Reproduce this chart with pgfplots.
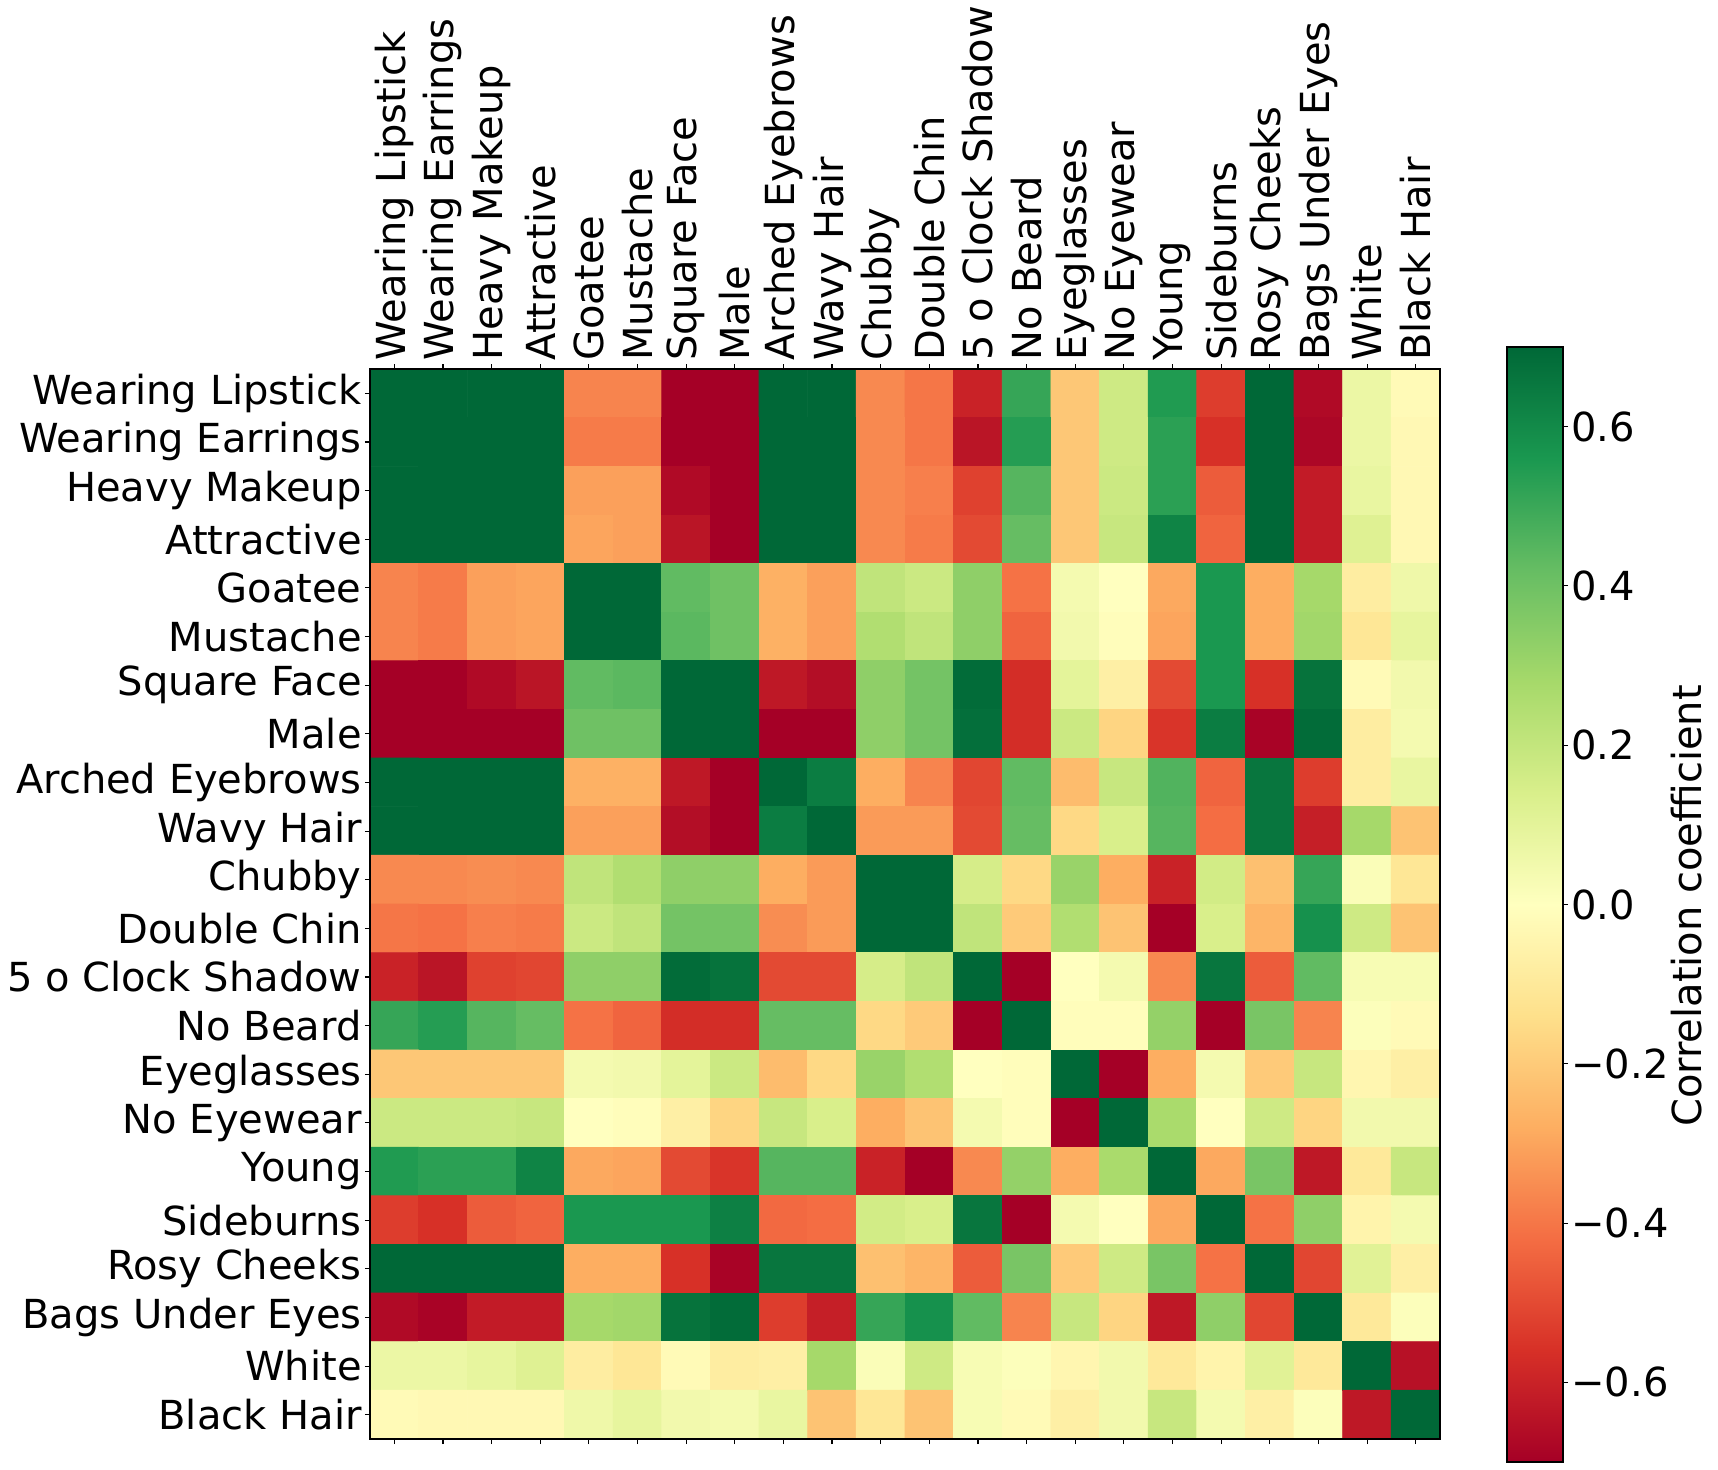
\documentclass[border=0pt]{standalone}
\usepackage{fontspec}
\setmainfont{DejaVu Sans}
\usepackage{pgfplots}
\pgfplotsset{compat=1.18}
\usetikzlibrary{calc}

% matplotlib RdYlGn
\pgfplotsset{colormap={RdYlGn}{
  rgb255=(165,0,38) rgb255=(215,48,39) rgb255=(244,109,67) rgb255=(253,174,97)
  rgb255=(254,224,139) rgb255=(255,255,191) rgb255=(217,239,139) rgb255=(166,217,106)
  rgb255=(102,189,99) rgb255=(26,152,80) rgb255=(0,104,55)}}

\newcommand{\lblfont}{\fontsize{20pt}{24pt}\selectfont}

\begin{document}
\begin{tikzpicture}
\begin{axis}[
    name=hm,
    at={(0,0)}, anchor=north west,
    scale only axis,
    width=535pt, height=535pt,
    xmin=-0.5, xmax=21.5, ymin=-0.5, ymax=21.5,
    axis on top,
    axis line style={line width=0.55pt},
    xtick={0,...,21}, ytick={0,...,21},
    xticklabels={Wearing Lipstick, Wearing Earrings, Heavy Makeup, Attractive, Goatee, Mustache, Square Face, Male, Arched Eyebrows, Wavy Hair, Chubby, Double Chin, 5 o Clock Shadow, No Beard, Eyeglasses, No Eyewear, Young, Sideburns, Rosy Cheeks, Bags Under Eyes, White, Black Hair},
    yticklabels={Black Hair, White, Bags Under Eyes, Rosy Cheeks, Sideburns, Young, No Eyewear, Eyeglasses, No Beard, 5 o Clock Shadow, Double Chin, Chubby, Wavy Hair, Arched Eyebrows, Male, Square Face, Mustache, Goatee, Attractive, Heavy Makeup, Wearing Earrings, Wearing Lipstick},
    xtick pos=both, xticklabel pos=upper,
    ytick pos=left,
    tick align=outside,
    major tick length=2.5pt,
    every tick/.style={black, line width=0.55pt},
    x tick label style={rotate=90, anchor=west, font=\lblfont, inner sep=1.5pt},
    y tick label style={anchor=east, font=\lblfont, inner sep=1.5pt},
    colormap name=RdYlGn,
    point meta min=-0.7, point meta max=0.7,
]
\addplot[matrix plot*, mesh/cols=22, point meta=explicit] coordinates {
(0,21)[0.7] (1,21)[0.7] (2,21)[0.7] (3,21)[0.7] (4,21)[-0.37] (5,21)[-0.37] (6,21)[-0.7] (7,21)[-0.7] (8,21)[0.7] (9,21)[0.7] (10,21)[-0.36] (11,21)[-0.40] (12,21)[-0.60] (13,21)[0.51] (14,21)[-0.21] (15,21)[0.17] (16,21)[0.55] (17,21)[-0.53] (18,21)[0.7] (19,21)[-0.67] (20,21)[0.07] (21,21)[-0.02]
(0,20)[0.7] (1,20)[0.7] (2,20)[0.7] (3,20)[0.7] (4,20)[-0.39] (5,20)[-0.39] (6,20)[-0.7] (7,20)[-0.7] (8,20)[0.7] (9,20)[0.7] (10,20)[-0.36] (11,20)[-0.40] (12,20)[-0.64] (13,20)[0.54] (14,20)[-0.21] (15,20)[0.17] (16,20)[0.53] (17,20)[-0.56] (18,20)[0.7] (19,20)[-0.68] (20,20)[0.07] (21,20)[-0.03]
(0,19)[0.7] (1,19)[0.7] (2,19)[0.7] (3,19)[0.7] (4,19)[-0.31] (5,19)[-0.31] (6,19)[-0.67] (7,19)[-0.7] (8,19)[0.7] (9,19)[0.7] (10,19)[-0.36] (11,19)[-0.38] (12,19)[-0.52] (13,19)[0.45] (14,19)[-0.21] (15,19)[0.18] (16,19)[0.53] (17,19)[-0.46] (18,19)[0.7] (19,19)[-0.62] (20,19)[0.08] (21,19)[-0.03]
(0,18)[0.7] (1,18)[0.7] (2,18)[0.7] (3,18)[0.7] (4,18)[-0.30] (5,18)[-0.31] (6,18)[-0.64] (7,18)[-0.7] (8,18)[0.7] (9,18)[0.7] (10,18)[-0.36] (11,18)[-0.39] (12,18)[-0.50] (13,18)[0.42] (14,18)[-0.21] (15,18)[0.19] (16,18)[0.62] (17,18)[-0.44] (18,18)[0.7] (19,18)[-0.62] (20,18)[0.12] (21,18)[-0.03]
(0,17)[-0.37] (1,17)[-0.39] (2,17)[-0.31] (3,17)[-0.30] (4,17)[0.7] (5,17)[0.7] (6,17)[0.43] (7,17)[0.40] (8,17)[-0.27] (9,17)[-0.31] (10,17)[0.21] (11,17)[0.18] (12,17)[0.33] (13,17)[-0.41] (14,17)[0.04] (15,17)[0.0] (16,17)[-0.29] (17,17)[0.56] (18,17)[-0.28] (19,17)[0.28] (20,17)[-0.08] (21,17)[0.06]
(0,16)[-0.37] (1,16)[-0.39] (2,16)[-0.31] (3,16)[-0.30] (4,16)[0.7] (5,16)[0.7] (6,16)[0.44] (7,16)[0.40] (8,16)[-0.27] (9,16)[-0.31] (10,16)[0.25] (11,16)[0.21] (12,16)[0.33] (13,16)[-0.44] (14,16)[0.05] (15,16)[-0.01] (16,16)[-0.30] (17,16)[0.56] (18,16)[-0.28] (19,16)[0.29] (20,16)[-0.11] (21,16)[0.09]
(0,15)[-0.7] (1,15)[-0.7] (2,15)[-0.67] (3,15)[-0.64] (4,15)[0.43] (5,15)[0.44] (6,15)[0.7] (7,15)[0.7] (8,15)[-0.63] (9,15)[-0.66] (10,15)[0.33] (11,15)[0.39] (12,15)[0.69] (13,15)[-0.57] (14,15)[0.10] (15,15)[-0.07] (16,15)[-0.50] (17,15)[0.56] (18,15)[-0.56] (19,15)[0.67] (20,15)[-0.02] (21,15)[0.05]
(0,14)[-0.7] (1,14)[-0.7] (2,14)[-0.7] (3,14)[-0.7] (4,14)[0.40] (5,14)[0.40] (6,14)[0.7] (7,14)[0.7] (8,14)[-0.7] (9,14)[-0.7] (10,14)[0.33] (11,14)[0.39] (12,14)[0.68] (13,14)[-0.57] (14,14)[0.18] (15,14)[-0.17] (16,14)[-0.55] (17,14)[0.64] (18,14)[-0.69] (19,14)[0.69] (20,14)[-0.08] (21,14)[0.04]
(0,13)[0.7] (1,13)[0.7] (2,13)[0.7] (3,13)[0.7] (4,13)[-0.27] (5,13)[-0.27] (6,13)[-0.63] (7,13)[-0.7] (8,13)[0.7] (9,13)[0.64] (10,13)[-0.28] (11,13)[-0.37] (12,13)[-0.51] (13,13)[0.43] (14,13)[-0.24] (15,13)[0.19] (16,13)[0.46] (17,13)[-0.44] (18,13)[0.66] (19,13)[-0.53] (20,13)[-0.08] (21,13)[0.08]
(0,12)[0.7] (1,12)[0.7] (2,12)[0.7] (3,12)[0.7] (4,12)[-0.31] (5,12)[-0.31] (6,12)[-0.66] (7,12)[-0.7] (8,12)[0.64] (9,12)[0.7] (10,12)[-0.32] (11,12)[-0.32] (12,12)[-0.50] (13,12)[0.42] (14,12)[-0.16] (15,12)[0.14] (16,12)[0.45] (17,12)[-0.42] (18,12)[0.66] (19,12)[-0.61] (20,12)[0.28] (21,12)[-0.22]
(0,11)[-0.36] (1,11)[-0.36] (2,11)[-0.35] (3,11)[-0.36] (4,11)[0.21] (5,11)[0.25] (6,11)[0.33] (7,11)[0.33] (8,11)[-0.28] (9,11)[-0.32] (10,11)[0.7] (11,11)[0.7] (12,11)[0.15] (13,11)[-0.16] (14,11)[0.31] (15,11)[-0.28] (16,11)[-0.60] (17,11)[0.16] (18,11)[-0.23] (19,11)[0.51] (20,11)[0.02] (21,11)[-0.11]
(0,10)[-0.40] (1,10)[-0.41] (2,10)[-0.38] (3,10)[-0.39] (4,10)[0.18] (5,10)[0.21] (6,10)[0.39] (7,10)[0.39] (8,10)[-0.35] (9,10)[-0.32] (10,10)[0.7] (11,10)[0.7] (12,10)[0.21] (13,10)[-0.20] (14,10)[0.25] (15,10)[-0.22] (16,10)[-0.70] (17,10)[0.14] (18,10)[-0.26] (19,10)[0.58] (20,10)[0.17] (21,10)[-0.22]
(0,9)[-0.60] (1,9)[-0.64] (2,9)[-0.52] (3,9)[-0.51] (4,9)[0.33] (5,9)[0.33] (6,9)[0.69] (7,9)[0.67] (8,9)[-0.50] (9,9)[-0.50] (10,9)[0.15] (11,9)[0.21] (12,9)[0.7] (13,9)[-0.70] (14,9)[0.0] (15,9)[0.04] (16,9)[-0.36] (17,9)[0.66] (18,9)[-0.46] (19,9)[0.43] (20,9)[0.03] (21,9)[0.03]
(0,8)[0.51] (1,8)[0.54] (2,8)[0.45] (3,8)[0.42] (4,8)[-0.41] (5,8)[-0.44] (6,8)[-0.57] (7,8)[-0.57] (8,8)[0.42] (9,8)[0.42] (10,8)[-0.16] (11,8)[-0.20] (12,8)[-0.70] (13,8)[0.7] (14,8)[-0.01] (15,8)[-0.01] (16,8)[0.32] (17,8)[-0.70] (18,8)[0.38] (19,8)[-0.37] (20,8)[0.01] (21,8)[-0.02]
(0,7)[-0.21] (1,7)[-0.21] (2,7)[-0.21] (3,7)[-0.21] (4,7)[0.04] (5,7)[0.05] (6,7)[0.10] (7,7)[0.18] (8,7)[-0.24] (9,7)[-0.16] (10,7)[0.31] (11,7)[0.25] (12,7)[0.0] (13,7)[-0.01] (14,7)[0.7] (15,7)[-0.70] (16,7)[-0.28] (17,7)[0.04] (18,7)[-0.20] (19,7)[0.19] (20,7)[-0.04] (21,7)[-0.07]
(0,6)[0.18] (1,6)[0.18] (2,6)[0.18] (3,6)[0.19] (4,6)[0.0] (5,6)[-0.01] (6,6)[-0.07] (7,6)[-0.17] (8,6)[0.19] (9,6)[0.14] (10,6)[-0.28] (11,6)[-0.22] (12,6)[0.04] (13,6)[-0.01] (14,6)[-0.70] (15,6)[0.7] (16,6)[0.27] (17,6)[0.0] (18,6)[0.17] (19,6)[-0.17] (20,6)[0.05] (21,6)[0.05]
(0,5)[0.55] (1,5)[0.53] (2,5)[0.53] (3,5)[0.62] (4,5)[-0.29] (5,5)[-0.30] (6,5)[-0.50] (7,5)[-0.55] (8,5)[0.45] (9,5)[0.45] (10,5)[-0.60] (11,5)[-0.70] (12,5)[-0.36] (13,5)[0.32] (14,5)[-0.28] (15,5)[0.27] (16,5)[0.7] (17,5)[-0.29] (18,5)[0.38] (19,5)[-0.63] (20,5)[-0.10] (21,5)[0.19]
(0,4)[-0.53] (1,4)[-0.56] (2,4)[-0.46] (3,4)[-0.44] (4,4)[0.56] (5,4)[0.56] (6,4)[0.56] (7,4)[0.63] (8,4)[-0.43] (9,4)[-0.42] (10,4)[0.16] (11,4)[0.14] (12,4)[0.66] (13,4)[-0.70] (14,4)[0.04] (15,4)[0.0] (16,4)[-0.29] (17,4)[0.7] (18,4)[-0.41] (19,4)[0.33] (20,4)[-0.05] (21,4)[0.04]
(0,3)[0.7] (1,3)[0.7] (2,3)[0.7] (3,3)[0.7] (4,3)[-0.28] (5,3)[-0.28] (6,3)[-0.56] (7,3)[-0.69] (8,3)[0.66] (9,3)[0.66] (10,3)[-0.23] (11,3)[-0.26] (12,3)[-0.46] (13,3)[0.38] (14,3)[-0.20] (15,3)[0.17] (16,3)[0.38] (17,3)[-0.41] (18,3)[0.7] (19,3)[-0.51] (20,3)[0.11] (21,3)[-0.07]
(0,2)[-0.67] (1,2)[-0.69] (2,2)[-0.62] (3,2)[-0.62] (4,2)[0.28] (5,2)[0.29] (6,2)[0.67] (7,2)[0.69] (8,2)[-0.53] (9,2)[-0.61] (10,2)[0.51] (11,2)[0.58] (12,2)[0.43] (13,2)[-0.37] (14,2)[0.19] (15,2)[-0.17] (16,2)[-0.63] (17,2)[0.33] (18,2)[-0.51] (19,2)[0.7] (20,2)[-0.10] (21,2)[0.01]
(0,1)[0.07] (1,1)[0.07] (2,1)[0.09] (3,1)[0.12] (4,1)[-0.08] (5,1)[-0.11] (6,1)[-0.02] (7,1)[-0.08] (8,1)[-0.07] (9,1)[0.28] (10,1)[0.02] (11,1)[0.17] (12,1)[0.03] (13,1)[0.01] (14,1)[-0.04] (15,1)[0.05] (16,1)[-0.10] (17,1)[-0.05] (18,1)[0.11] (19,1)[-0.10] (20,1)[0.7] (21,1)[-0.65]
(0,0)[-0.02] (1,0)[-0.03] (2,0)[-0.03] (3,0)[-0.03] (4,0)[0.06] (5,0)[0.09] (6,0)[0.05] (7,0)[0.04] (8,0)[0.08] (9,0)[-0.22] (10,0)[-0.11] (11,0)[-0.22] (12,0)[0.03] (13,0)[-0.02] (14,0)[-0.07] (15,0)[0.05] (16,0)[0.19] (17,0)[0.04] (18,0)[-0.07] (19,0)[0.01] (20,0)[-0.63] (21,0)[0.7]
};
\end{axis}

% colour bar, drawn as its own axis
\begin{axis}[
    at={($(hm.north east)+(33.5pt,11pt)$)}, anchor=north west,
    scale only axis,
    width=28pt, height=557.5pt,
    xmin=0, xmax=1, ymin=-0.7, ymax=0.7,
    axis on top,
    axis line style={line width=0.55pt},
    xtick=\empty,
    ytick={-0.6,-0.4,-0.2,0,0.2,0.4,0.6},
    yticklabels={−0.6,−0.4,−0.2,0.0,0.2,0.4,0.6},
    ytick pos=right, yticklabel pos=right,
    tick align=outside,
    major tick length=2.5pt,
    every tick/.style={black, line width=0.55pt},
    y tick label style={anchor=west, font=\lblfont, inner sep=1.5pt},
    colormap name=RdYlGn,
    point meta min=-0.7, point meta max=0.7,
]
\addplot[surf, shader=interp, mesh/cols=2, point meta=explicit] coordinates {
(0,-0.7)[-0.7] (1,-0.7)[-0.7]
(0,0.7)[0.7] (1,0.7)[0.7]
};
\end{axis}

\node[rotate=90, inner sep=0pt, font=\lblfont] at ($(hm.north west)+(658.5pt,-268.5pt)$) {Correlation coefficient};
\pgfresetboundingbox
\useasboundingbox ($(hm.north west)+(-185pt,184.5pt)$) rectangle ($(hm.north west)+(674pt,-550pt)$);
\end{tikzpicture}
\end{document}
